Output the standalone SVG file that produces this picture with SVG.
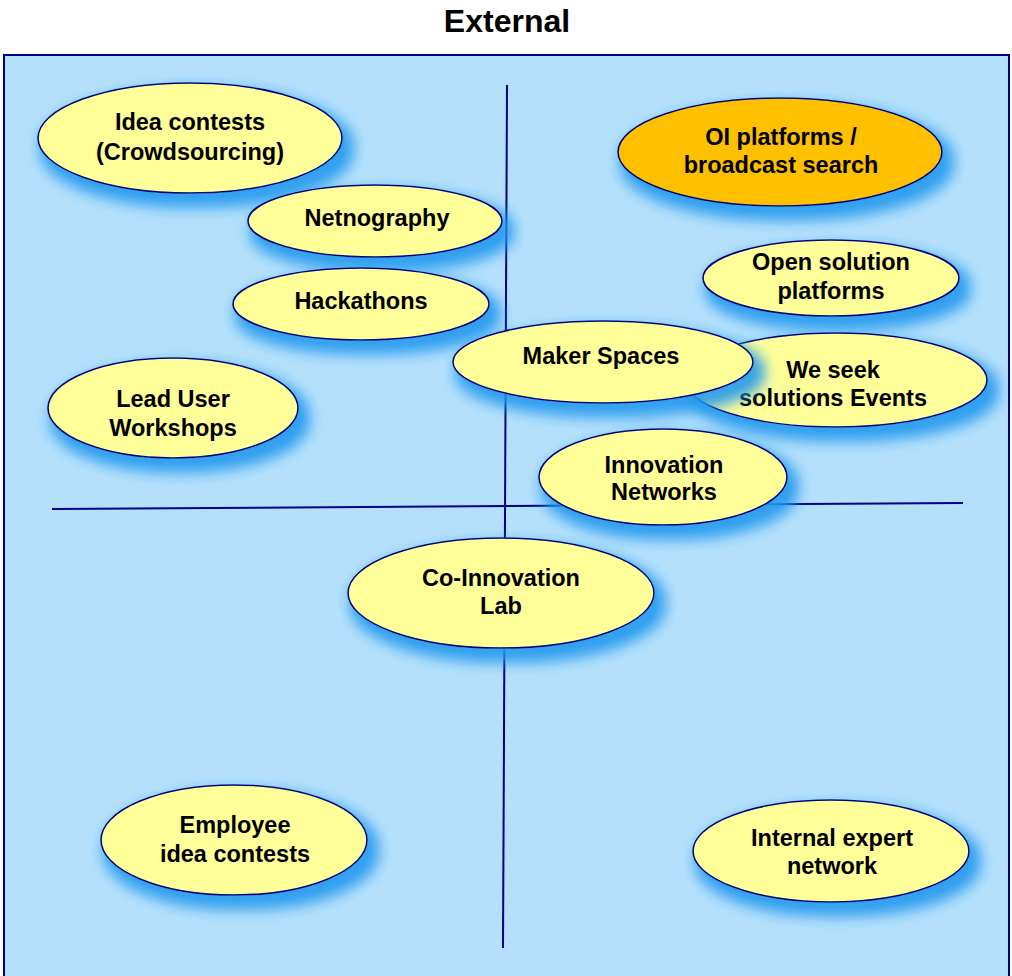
<svg xmlns="http://www.w3.org/2000/svg" width="1012" height="976" viewBox="0 0 1012 976">
  <defs>
    <!-- soft blue glow cast down-right behind each bubble -->
    <filter id="glow" x="-30%" y="-40%" width="170%" height="200%">
      <feMorphology in="SourceAlpha" operator="dilate" radius="4" result="d"/>
      <feGaussianBlur in="d" stdDeviation="7" result="b"/>
      <feOffset in="b" dx="7" dy="10" result="o"/>
      <feFlood flood-color="#2298EE" flood-opacity="0.9"/>
      <feComposite in2="o" operator="in" result="s"/>
      <feMerge>
        <feMergeNode in="s"/>
        <feMergeNode in="SourceGraphic"/>
      </feMerge>
    </filter>
    <style>
      .panel { fill: #B5E0FC; stroke: #000080; stroke-width: 2; }
      .axis { stroke: #000080; stroke-width: 2; fill: none; }
      .bubble { fill: #FFFF99; stroke: #000080; stroke-width: 1.6; filter: url(#glow); }
      .hot { fill: #FFC000; }
      .lbl { font-family: "Liberation Sans", Arial, sans-serif; font-weight: bold; font-size: 23.5px; fill: #000; text-anchor: middle; }
      .title { font-family: "Liberation Sans", Arial, sans-serif; font-weight: bold; font-size: 32px; fill: #000; text-anchor: middle; }
    </style>
  </defs>

  <rect width="1012" height="976" fill="#FFFFFF"/>
  <text class="title" x="507" y="32">External</text>
  <rect class="panel" x="4" y="55" width="1005" height="925"/>

  <!-- quadrant axes -->
  <g id="connectors">
    <line class="axis" x1="507" y1="85" x2="503" y2="948"/>
    <line class="axis" x1="52" y1="509" x2="963" y2="503"/>
  </g>

  <g id="idea-contests">
    <ellipse class="bubble" cx="190" cy="138" rx="152" ry="55"/>
    <text class="lbl" x="190" y="130">Idea contests</text>
    <text class="lbl" x="190" y="160">(Crowdsourcing)</text>
  </g>
  <g id="netnography">
    <ellipse class="bubble" cx="375" cy="221" rx="127" ry="36"/>
    <text class="lbl" x="377" y="226">Netnography</text>
  </g>
  <g id="hackathons">
    <ellipse class="bubble" cx="361" cy="304" rx="128" ry="36"/>
    <text class="lbl" x="361" y="309">Hackathons</text>
  </g>
  <g id="lead-user">
    <ellipse class="bubble" cx="173" cy="408" rx="125" ry="50"/>
    <text class="lbl" x="173" y="407">Lead User</text>
    <text class="lbl" x="173" y="436">Workshops</text>
  </g>
  <g id="oi-platforms">
    <ellipse class="bubble hot" cx="780" cy="152" rx="162" ry="54"/>
    <text class="lbl" x="781" y="145">OI platforms /</text>
    <text class="lbl" x="781" y="173">broadcast search</text>
  </g>
  <g id="open-solution">
    <ellipse class="bubble" cx="831" cy="278" rx="128" ry="38"/>
    <text class="lbl" x="831" y="270">Open solution</text>
    <text class="lbl" x="831" y="299">platforms</text>
  </g>
  <g id="we-seek">
    <ellipse class="bubble" cx="836" cy="380" rx="151" ry="47"/>
    <text class="lbl" x="833" y="378">We seek</text>
    <text class="lbl" x="833" y="406">solutions Events</text>
  </g>
  <g id="maker-spaces">
    <ellipse class="bubble" cx="603" cy="362" rx="150" ry="41"/>
    <text class="lbl" x="601" y="364">Maker Spaces</text>
  </g>
  <g id="innovation-networks">
    <ellipse class="bubble" cx="663" cy="477" rx="124" ry="48"/>
    <text class="lbl" x="664" y="473">Innovation</text>
    <text class="lbl" x="664" y="500">Networks</text>
  </g>
  <g id="co-innovation">
    <ellipse class="bubble" cx="501" cy="593" rx="153" ry="55"/>
    <text class="lbl" x="501" y="586">Co-Innovation</text>
    <text class="lbl" x="501" y="614">Lab</text>
  </g>
  <g id="employee-contests">
    <ellipse class="bubble" cx="234" cy="840" rx="133" ry="55"/>
    <text class="lbl" x="235" y="833">Employee</text>
    <text class="lbl" x="235" y="862">idea contests</text>
  </g>
  <g id="expert-network">
    <ellipse class="bubble" cx="831" cy="851" rx="138" ry="51"/>
    <text class="lbl" x="832" y="846">Internal expert</text>
    <text class="lbl" x="832" y="874">network</text>
  </g>
</svg>
